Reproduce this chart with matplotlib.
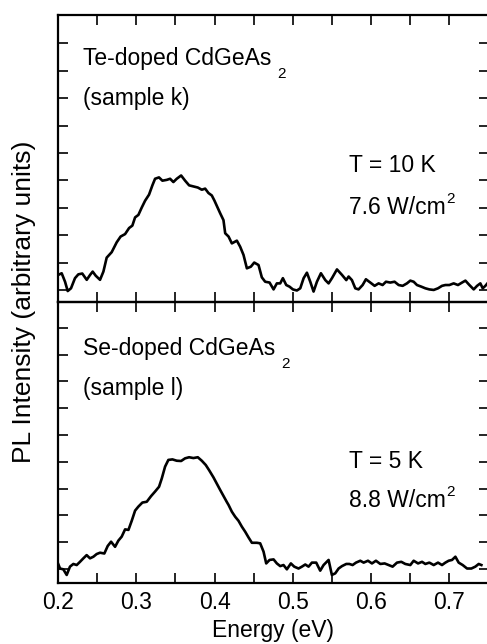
import matplotlib
matplotlib.use("Agg")
import matplotlib.pyplot as plt
import numpy as np

plt.rcParams['font.family'] = ['Liberation Sans', 'DejaVu Sans']

# ---- data ----
te_energy = [0.2004, 0.2047, 0.2090, 0.2124, 0.2166, 0.2217, 0.2260, 0.2310, 0.2367, 0.2410,
             0.2443, 0.2482, 0.2537, 0.2580, 0.2622, 0.2686, 0.2750, 0.2800, 0.2857, 0.2908,
             0.2950, 0.2985, 0.3027, 0.3070, 0.3113, 0.3163, 0.3206, 0.3240, 0.3290, 0.3334,
             0.3390, 0.3432, 0.3474, 0.3517, 0.3573, 0.3624, 0.3675, 0.3730, 0.3786, 0.3837,
             0.3880, 0.3922, 0.3965, 0.3999, 0.4072, 0.4114, 0.4136, 0.4179, 0.4221, 0.4285,
             0.4327, 0.4370, 0.4413, 0.4464, 0.4507, 0.4562, 0.4604, 0.4647, 0.4703, 0.4754,
             0.4796, 0.4839, 0.4873, 0.4916, 0.4958, 0.5001, 0.5052, 0.5095, 0.5138, 0.5180,
             0.5223, 0.5265, 0.5308, 0.5359, 0.5415, 0.5457, 0.5500, 0.5564, 0.5628, 0.5683,
             0.5713, 0.5755, 0.5798, 0.5840, 0.5892, 0.5934, 0.5990, 0.6045, 0.6096, 0.6147,
             0.6190, 0.6245, 0.6300, 0.6352, 0.6403, 0.6458, 0.6501, 0.6544, 0.6586, 0.6642,
             0.6693, 0.6744, 0.6800, 0.6855, 0.6906, 0.6949, 0.7000, 0.7055, 0.7110, 0.7162,
             0.7205, 0.7256, 0.7311, 0.7354, 0.7396, 0.7426, 0.7460, 0.7486]
te_intensity = [0.55, 0.61, 0.30, -0.04, 0.06, 0.43, 0.57, 0.60, 0.37, 0.55,
                0.67, 0.52, 0.37, 0.67, 1.18, 1.38, 1.74, 1.95, 2.04, 2.26,
                2.35, 2.65, 2.74, 3.01, 3.26, 3.48, 3.82, 4.06, 4.11, 3.99,
                4.02, 4.06, 3.94, 4.06, 4.18, 3.99, 3.82, 3.78, 3.74, 3.66,
                3.70, 3.54, 3.45, 3.26, 2.80, 2.55, 2.07, 1.95, 1.70, 1.80,
                1.58, 1.28, 0.79, 0.85, 1.00, 0.91, 0.46, 0.30, 0.27, 0.02,
                0.24, 0.24, 0.43, 0.18, 0.12, 0.02, -0.02, 0.06, 0.43, 0.63,
                0.30, -0.06, 0.30, 0.61, 0.36, 0.24, 0.43, 0.75, 0.55, 0.36,
                0.49, 0.36, 0.06, 0.02, 0.18, 0.39, 0.27, 0.15, 0.24, 0.18,
                0.30, 0.27, 0.30, 0.18, 0.15, 0.24, 0.34, 0.30, 0.18, 0.12,
                0.06, 0.02, 0.00, 0.06, 0.15, 0.18, 0.18, 0.24, 0.18, 0.27,
                0.34, 0.18, 0.02, 0.15, 0.24, 0.06, 0.15, 0.24]

se_energy = [0.2000, 0.2026, 0.2068, 0.2111, 0.2153, 0.2196, 0.2239, 0.2281, 0.2324, 0.2366,
             0.2409, 0.2452, 0.2494, 0.2537, 0.2592, 0.2635, 0.2678, 0.2729, 0.2771, 0.2814,
             0.2857, 0.2900, 0.2942, 0.2985, 0.3027, 0.3078, 0.3134, 0.3189, 0.3240, 0.3291,
             0.3326, 0.3368, 0.3410, 0.3462, 0.3517, 0.3573, 0.3624, 0.3675, 0.3730, 0.3786,
             0.3837, 0.3888, 0.3930, 0.3986, 0.4072, 0.4157, 0.4179, 0.4221, 0.4264, 0.4306,
             0.4349, 0.4392, 0.4434, 0.4477, 0.4541, 0.4583, 0.4626, 0.4660, 0.4703, 0.4754,
             0.4796, 0.4839, 0.4881, 0.4924, 0.4975, 0.5018, 0.5073, 0.5116, 0.5159, 0.5201,
             0.5244, 0.5299, 0.5350, 0.5393, 0.5457, 0.5499, 0.5542, 0.5585, 0.5628, 0.5683,
             0.5722, 0.5764, 0.5807, 0.5862, 0.5905, 0.5960, 0.6011, 0.6062, 0.6118, 0.6173,
             0.6224, 0.6275, 0.6331, 0.6386, 0.6437, 0.6501, 0.6544, 0.6600, 0.6651, 0.6693,
             0.6744, 0.6800, 0.6855, 0.6906, 0.6949, 0.6991, 0.7034, 0.7077, 0.7119, 0.7170,
             0.7226, 0.7281, 0.7332, 0.7375, 0.7409]
se_intensity = [0.21, 0.02, -0.01, -0.22, 0.09, 0.19, 0.15, 0.27, 0.40, 0.52,
                0.40, 0.46, 0.56, 0.61, 0.58, 0.86, 1.02, 0.83, 1.06, 1.21,
                1.48, 1.46, 1.80, 2.18, 2.33, 2.48, 2.51, 2.72, 2.89, 3.07,
                3.38, 3.82, 4.07, 4.09, 4.04, 4.03, 4.13, 4.17, 4.14, 4.17,
                4.04, 3.88, 3.69, 3.42, 2.95, 2.50, 2.39, 2.14, 1.95, 1.80,
                1.58, 1.39, 1.18, 0.98, 0.98, 0.96, 0.65, 0.21, 0.34, 0.36,
                0.21, 0.11, 0.15, -0.01, 0.21, 0.09, 0.02, 0.09, 0.17, 0.09,
                0.24, 0.24, -0.06, 0.15, 0.34, -0.22, -0.16, 0.02, 0.11, 0.19,
                0.19, 0.15, 0.24, 0.31, 0.24, 0.31, 0.21, 0.31, 0.19, 0.21,
                0.15, 0.09, 0.24, 0.27, 0.19, 0.15, 0.31, 0.21, 0.27, 0.19,
                0.24, 0.15, 0.24, 0.15, 0.24, 0.31, 0.34, 0.46, 0.24, 0.15,
                0.02, 0.02, 0.09, 0.19, 0.15]

x_ticks = [0.2, 0.3, 0.4, 0.5, 0.6, 0.7]
x_tick_labels = ["0.2", "0.3", "0.4", "0.5", "0.6", "0.7"]
x_minor = [0.25, 0.35, 0.45, 0.55, 0.65]
y_ticks = list(range(10))

top_labels = ["Te-doped CdGeAs", "(sample k)", "T = 10 K", "7.6 W/cm"]
bot_labels = ["Se-doped CdGeAs", "(sample l)", "T = 5 K", "8.8 W/cm"]

W, H = 487, 644
fig = plt.figure(figsize=(W / 100, H / 100), dpi=100)

left = 58 / W
right = 488.5 / W
ax_top = fig.add_axes([left, 1 - 302 / H, right - left, (302 - 15) / H])
ax_bot = fig.add_axes([left, 1 - 583 / H, right - left, (583 - 302) / H])

FS = 16.5
SUB = 11

def style(ax, ylim, show_labels):
    ax.set_xlim(0.2, 0.75)
    ax.set_ylim(*ylim)
    ax.set_xticks(x_ticks)
    ax.set_xticks(x_minor, minor=True)
    ax.set_yticks(y_ticks)
    ax.tick_params(which='both', direction='in', top=True, right=True,
                   length=7, width=1.2, pad=6, labelsize=FS)
    ax.tick_params(axis='y', labelleft=False)
    if show_labels:
        ax.set_xticklabels(x_tick_labels)
    else:
        ax.tick_params(axis='x', labelbottom=False)
    for s in ax.spines.values():
        s.set_linewidth(1.6)
    ax.patch.set_alpha(0)

style(ax_top, (-0.44, 10.04), False)
style(ax_bot, (-0.52, 9.96), True)

ax_top.plot(te_energy, te_intensity, color='black', lw=1.9)
ax_bot.plot(se_energy, se_intensity, color='black', lw=1.9)

def annotate(ax, labels, ys):
    x1, x2 = 0.0574, 0.676
    t0 = ax.text(x1, ys[0], labels[0], transform=ax.transAxes, fontsize=FS, va='baseline', ha='left')
    ax.annotate("2", xy=(1, 0), xycoords=t0, xytext=(4.5, -5.5), textcoords='offset points',
                fontsize=SUB, va='baseline', ha='left')
    ax.text(x1, ys[1], labels[1], transform=ax.transAxes, fontsize=FS, va='baseline', ha='left')
    ax.text(x2, ys[2], labels[2], transform=ax.transAxes, fontsize=FS, va='baseline', ha='left')
    t3 = ax.text(x2, ys[3], labels[3], transform=ax.transAxes, fontsize=FS, va='baseline', ha='left')
    ax.annotate("2", xy=(1, 0), xycoords=t3, xytext=(0.5, 11.5), textcoords='offset points',
                fontsize=SUB, va='baseline', ha='left')

annotate(ax_top, top_labels, [0.826, 0.686, 0.453, 0.3066])
annotate(ax_bot, bot_labels, [0.811, 0.669, 0.408, 0.2716])

fig.text(24 / W, 1 - 302 / H, "PL Intensity (arbitrary units)", rotation=90,
         fontsize=19, ha='center', va='center')
fig.text(273 / W, 1 - 636.7 / H, "Energy (eV)", fontsize=FS, ha='center', va='baseline')

fig.savefig("out.png", dpi=100)
